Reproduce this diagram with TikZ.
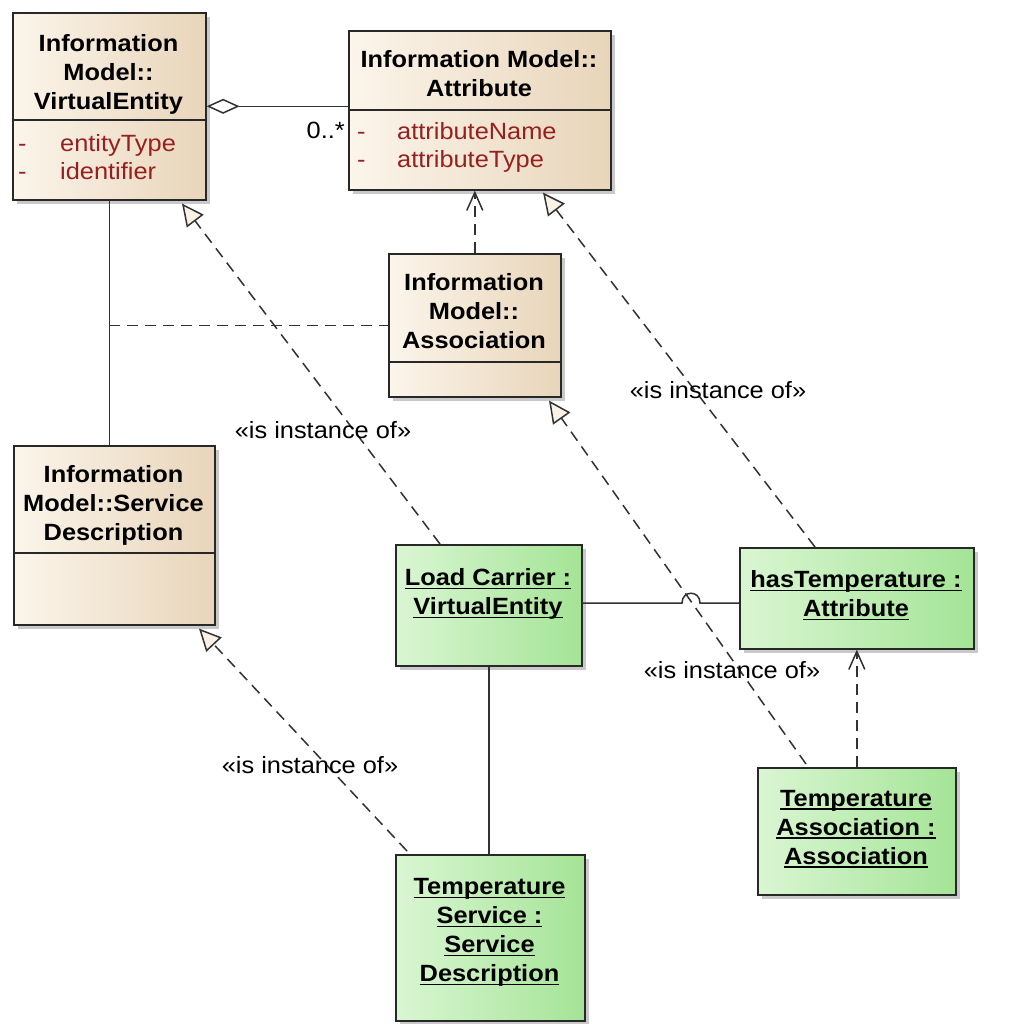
\documentclass[tikz,border=0pt]{standalone}
\usepackage{fontspec}
\setmainfont{Liberation Sans}[FakeStretch=1.08]
\usetikzlibrary{arrows.meta,shadows,calc}

\definecolor{beigeL}{RGB}{252,245,235}
\definecolor{beigeR}{RGB}{232,213,186}
\definecolor{greenL}{RGB}{218,246,211}
\definecolor{greenR}{RGB}{164,228,150}
\definecolor{attrred}{RGB}{150,32,32}
\definecolor{edgecol}{RGB}{40,40,40}
\definecolor{linecol}{RGB}{50,50,50}
\definecolor{tipfill}{RGB}{250,242,230}

% text size used throughout the diagram
\newcommand\dfont{\fontsize{23.5}{29}\selectfont}
% underline drawn just below the baseline, through descenders
\newcommand\uln[1]{\setbox0\hbox{#1}\rlap{\rule[-3.5pt]{\wd0}{1.5pt}}\box0}

\begin{document}
\begin{tikzpicture}[x=1pt,y=-1pt,
  boxshadow/.style={drop shadow={shadow xshift=4pt,shadow yshift=-4pt,fill=black!35,opacity=0.6}},
  classbox/.style={draw=edgecol, line width=1.6pt, left color=beigeL, right color=beigeR,
    boxshadow, inner sep=0pt, anchor=north west},
  objbox/.style={draw=edgecol, line width=1.6pt, left color=greenL, right color=greenR,
    boxshadow, inner sep=0pt, anchor=north west},
  septr/.style={draw=edgecol, line width=1.6pt},
  title/.style={font=\dfont\bfseries, align=center, inner sep=0pt, text=black},
  attrtext/.style={font=\dfont, text=attrred, inner sep=0pt, anchor=base west},
  lbl/.style={font=\dfont, text=black, inner sep=0pt},
  solidline/.style={draw=linecol, line width=1.5pt},
  dashline/.style={draw=linecol, line width=1.5pt, dash pattern=on 11pt off 7pt},
  realize/.style={dashline, -{Triangle[length=22pt,width=21pt,fill=tipfill,line width=1.5pt]}},
  depend/.style={dashline, -{Straight Barb[length=18pt,width=16pt,line width=1.5pt]}},
  aggr/.style={solidline, {Diamond[open,length=33pt,width=15pt,line width=1.5pt]}-}
]
\useasboundingbox[fill=white] (0,0) rectangle (1016,1024);

% ---------- model classes ----------
\node[classbox, minimum width=193pt, minimum height=187pt] (ve) at (12,12) {};
\draw[septr] (ve.west |- 0,120) -- (ve.east |- 0,120);
\node[title] (vet) at (108.5,74.5) {Information\\Model::\\VirtualEntity};
\node[attrtext] (vea1d) at (18,152) {-};
\node[attrtext] (vea1) at (60,152) {entityType};
\node[attrtext] (vea2d) at (18,180) {-};
\node[attrtext] (vea2) at (60,180) {identifier};

\node[classbox, minimum width=262pt, minimum height=159pt] (attr) at (348,30) {};
\draw[septr] (attr.west |- 0,110) -- (attr.east |- 0,110);
\node[title] (attrt) at (479,74) {Information Model::\\Attribute};
\node[attrtext] (attra1d) at (357,140) {-};
\node[attrtext] (attra1) at (397,140) {attributeName};
\node[attrtext] (attra2d) at (357,168) {-};
\node[attrtext] (attra2) at (397,168) {attributeType};

\node[classbox, minimum width=172pt, minimum height=143pt] (assoc) at (388,253) {};
\draw[septr] (assoc.west |- 0,362) -- (assoc.east |- 0,362);
\node[title] (assoct) at (474,311.5) {Information\\Model::\\Association};

\node[classbox, minimum width=201pt, minimum height=179pt] (sd) at (13,445) {};
\draw[septr] (sd.west |- 0,553) -- (sd.east |- 0,553);
\node[title] (sdt) at (113.5,505.5) {Information\\Model::Service\\Description};

% ---------- instances ----------
\node[objbox, minimum width=186pt, minimum height=121pt] (lc) at (395,544) {};
\node[title] (lct) at (488,594) {\uln{Load Carrier :}\\\uln{VirtualEntity}};

\node[objbox, minimum width=234pt, minimum height=101pt] (ht) at (739,547) {};
\node[title] (htt) at (856,595.5) {\uln{hasTemperature :}\\\uln{Attribute}};

\node[objbox, minimum width=198pt, minimum height=127pt] (ta) at (757,767) {};
\node[title] (tat) at (856,829) {\uln{Temperature}\\\uln{Association :}\\\uln{Association}};

\node[objbox, minimum width=189pt, minimum height=166pt] (ts) at (395,854) {};
\node[title] (tst) at (489.5,932.5) {\uln{Temperature}\\\uln{Service :}\\\uln{Service}\\\uln{Description}};

% ---------- class level connectors ----------
\draw[aggr] (ve.east) -- (ve.east -| attr.west);
\node[lbl, anchor=east] (mult) at (345,130) {0..*};

\draw[solidline] (ve.south) -- (ve.south |- sd.north);
\coordinate (acpoint) at (ve.south |- assoc.west);
\draw[dashline] (acpoint) -- (assoc.west);
\draw[depend] (assoc.north) -- (assoc.north |- attr.south);

% ---------- instance links ----------
\draw[solidline] (lc.south) -- (lc.south |- ts.north);
\coordinate (hopL) at (682,603);
\coordinate (hopR) at (700,603);
\draw[solidline] (lc.east |- hopL) -- (hopL) .. controls (682,590) and (700,590) .. (hopR) -- (ht.west |- hopR);
\draw[depend] (ta.north) -- (ta.north |- ht.south);

% ---------- instance-of relations ----------
\draw[realize] ($(lc.north west)+(45,0)$) -- ($(ve.south west)+(170,3)$);
\node[lbl] (lbl1) at (323,430) {«is instance of»};

\draw[realize] ($(ht.north west)+(76,0)$) -- ($(attr.south west)+(195,2)$);
\node[lbl] (lbl2) at (718,390) {«is instance of»};

\draw[realize] ($(ta.north west)+(49,-3)$) -- ($(assoc.south west)+(161,3)$);
\node[lbl] (lbl3) at (732,670) {«is instance of»};

\draw[realize] ($(ts.north west)+(12,-3)$) -- ($(sd.south west)+(186,3)$);
\node[lbl] (lbl4) at (310,765) {«is instance of»};
\end{tikzpicture}
\end{document}
